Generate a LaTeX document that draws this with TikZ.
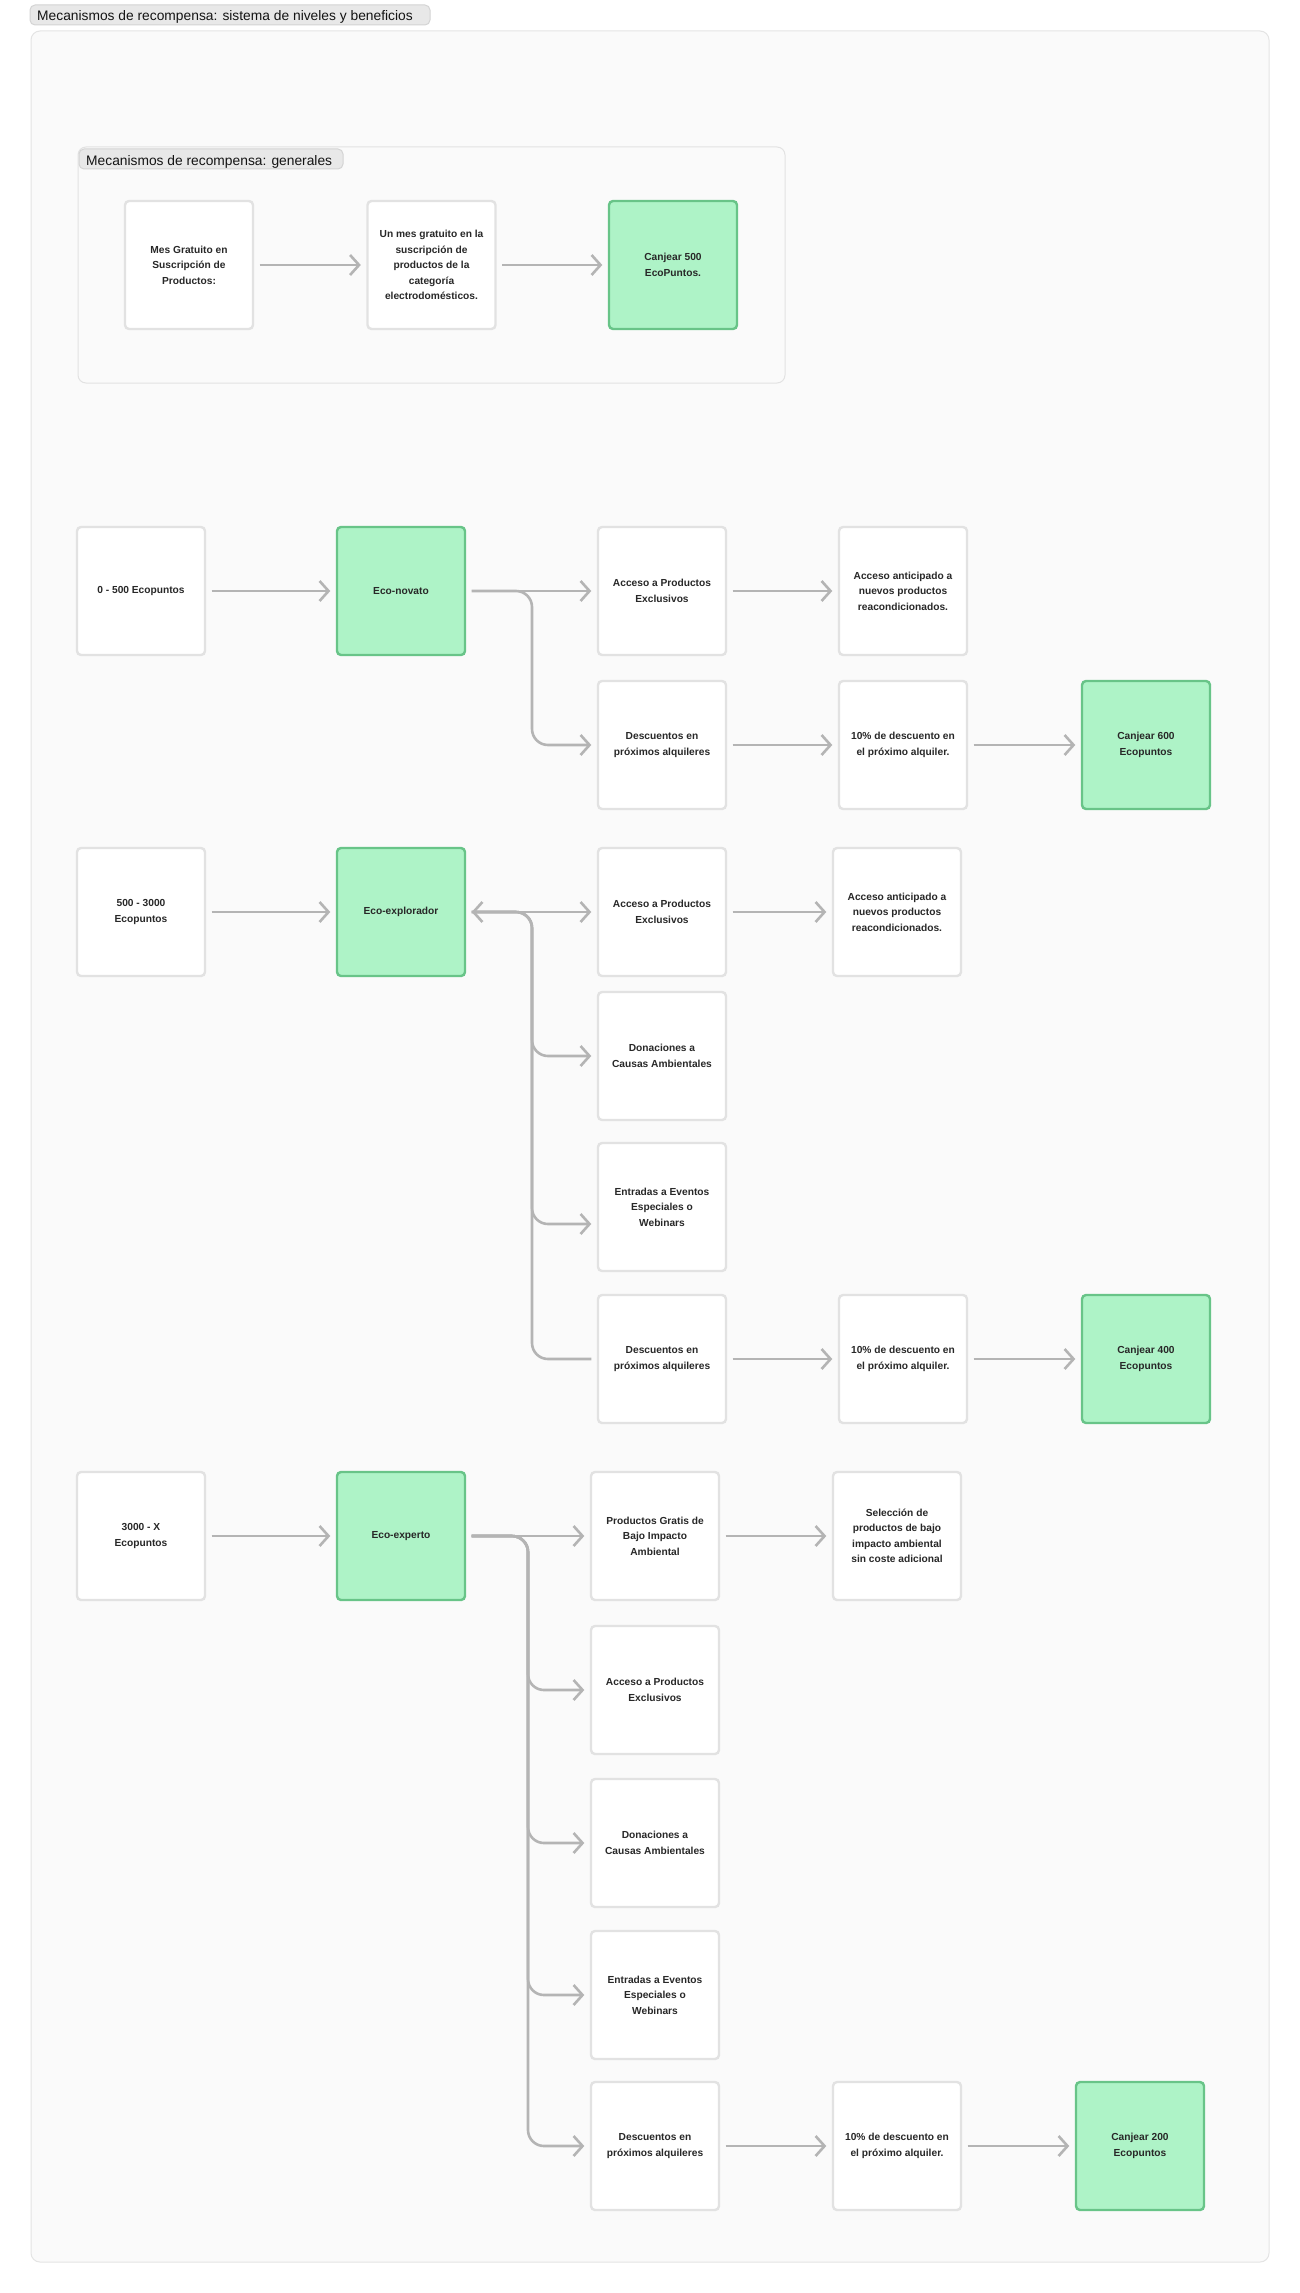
\documentclass[tikz,border=0pt]{standalone}
\usepackage{fontspec}
\setmainfont{Liberation Sans}
\usetikzlibrary{arrows.meta,calc}

\definecolor{panelbg}{RGB}{250,250,250}
\definecolor{panelline}{RGB}{228,228,228}
\definecolor{tabbg}{RGB}{232,232,232}
\definecolor{tabline}{RGB}{212,212,212}
\definecolor{boxline}{RGB}{226,226,226}
\definecolor{greenfill}{RGB}{174,243,199}
\definecolor{greenline}{RGB}{104,196,136}
\definecolor{linkgray}{RGB}{180,180,180}
\definecolor{inktext}{RGB}{40,40,40}
\definecolor{tabtext}{RGB}{20,20,20}

\begin{document}
\begin{tikzpicture}[x=1pt,y=-1pt,
  card/.style={draw=boxline, fill=white, line width=2.4pt, rounded corners=4pt,
    minimum width=128pt, minimum height=128pt, inner sep=0pt, align=center,
    font=\fontsize{10.2}{15.5}\selectfont\bfseries, text=inktext},
  goal/.style={card, draw=greenline, fill=greenfill},
  link/.style={draw=linkgray, line width=2.6pt, rounded corners=16pt,
    shorten <=5.5pt, shorten >=5.5pt, -{Straight Barb[length=9pt,width=20pt]}},
  panel/.style={fill=panelbg, draw=panelline, line width=1pt, rounded corners=9pt},
  tab/.style={fill=tabbg, draw=tabline, line width=1pt, rounded corners=5pt},
  tablabel/.style={font=\fontsize{13.8}{16}\selectfont, text=tabtext, inner sep=0pt, anchor=base west}
]
% canvas
\fill[white] (0,0) rectangle (1300,2293);
\useasboundingbox (0,0) rectangle (1300,2293);

% outer panel and its title
\draw[panel] (31,31) rectangle (1269,2262);
\draw[tab] (30,5) rectangle (430,25);
\node[tablabel] (title) at (37,20.5) {Mecanismos de recompensa: sistema de niveles y beneficios};

% general mechanisms group
\draw[panel, draw=boxline, rounded corners=8pt] (78,147) rectangle (785,383);
\draw[tab] (79,149) rectangle (343,169);
\node[tablabel] (gtitle) at (86,165.5) {Mecanismos de recompensa: generales};

\node[card] (g1) at (189,265) {Mes Gratuito en\\Suscripción de\\Productos:};
\node[card] (g2) at (431.5,265) {Un mes gratuito en la\\suscripción de\\productos de la\\categoría\\electrodomésticos.};
\node[goal] (g3) at (673,265) {Canjear 500\\EcoPuntos.};

% tier 1
\node[card] (t1) at (141,591) {0 - 500 Ecopuntos};
\node[goal] (nov) at (401,591) {Eco-novato};
\node[card] (n1) at (662,591) {Acceso a Productos\\Exclusivos};
\node[card] (n1b) at (903,591) {Acceso anticipado a\\nuevos productos\\reacondicionados.};
\node[card] (n2) at (662,745) {Descuentos en\\próximos alquileres};
\node[card] (n2b) at (903,745) {10\% de descuento en\\el próximo alquiler.};
\node[goal] (n2c) at (1146,745) {Canjear 600\\Ecopuntos};
\coordinate (bus1) at (532,591);

% tier 2
\node[card] (t2) at (141,912) {500 - 3000\\Ecopuntos};
\node[goal] (expl) at (401,912) {Eco-explorador};
\node[card] (x1) at (662,912) {Acceso a Productos\\Exclusivos};
\node[card] (x1b) at (897,912) {Acceso anticipado a\\nuevos productos\\reacondicionados.};
\node[card] (x2) at (662,1056) {Donaciones a\\Causas Ambientales};
\node[card] (x3) at (662,1207) {Entradas a Eventos\\Especiales o\\Webinars};
\node[card] (x4) at (662,1359) {Descuentos en\\próximos alquileres};
\node[card] (x4b) at (903,1359) {10\% de descuento en\\el próximo alquiler.};
\node[goal] (x4c) at (1146,1359) {Canjear 400\\Ecopuntos};
\coordinate (bus2) at (532,912);
\coordinate (x3in) at ($(x3.west)+(0,17)$);

% tier 3
\node[card] (t3) at (141,1536) {3000 - X\\Ecopuntos};
\node[goal] (expt) at (401,1536) {Eco-experto};
\node[card] (e1) at (655,1536) {Productos Gratis de\\Bajo Impacto\\Ambiental};
\node[card] (e1b) at (897,1536) {Selección de\\productos de bajo\\impacto ambiental\\sin coste adicional};
\node[card] (e2) at (655,1690) {Acceso a Productos\\Exclusivos};
\node[card] (e3) at (655,1843) {Donaciones a\\Causas Ambientales};
\node[card] (e4) at (655,1995) {Entradas a Eventos\\Especiales o\\Webinars};
\node[card] (e5) at (655,2146) {Descuentos en\\próximos alquileres};
\node[card] (e5b) at (897,2146) {10\% de descuento en\\el próximo alquiler.};
\node[goal] (e5c) at (1140,2146) {Canjear 200\\Ecopuntos};
\coordinate (bus3) at (528,1536);

% connectors: general group
\draw[link] (g1) -- (g2);
\draw[link] (g2) -- (g3);

% connectors: tier 1
\draw[link] (t1) -- (nov);
\draw[link] (nov) -- (n1);
\draw[link] (nov.east) -- (bus1) |- (n2.west);
\draw[link] (n1) -- (n1b);
\draw[link] (n2) -- (n2b);
\draw[link] (n2b) -- (n2c);

% connectors: tier 2
\draw[link] (t2) -- (expl);
\draw[link] (expl) -- (x1);
\draw[link] (expl.east) -- (bus2) |- (x2.west);
\draw[link] (expl.east) -- (bus2) |- (x3in);
\draw[link] (x4.west) -| (bus2) -- (expl.east);
\draw[link] (x1) -- (x1b);
\draw[link] (x4) -- (x4b);
\draw[link] (x4b) -- (x4c);

% connectors: tier 3
\draw[link] (t3) -- (expt);
\draw[link] (expt) -- (e1);
\draw[link] (expt.east) -- (bus3) |- (e2.west);
\draw[link] (expt.east) -- (bus3) |- (e3.west);
\draw[link] (expt.east) -- (bus3) |- (e4.west);
\draw[link] (expt.east) -- (bus3) |- (e5.west);
\draw[link] (e1) -- (e1b);
\draw[link] (e5) -- (e5b);
\draw[link] (e5b) -- (e5c);
\end{tikzpicture}
\end{document}
